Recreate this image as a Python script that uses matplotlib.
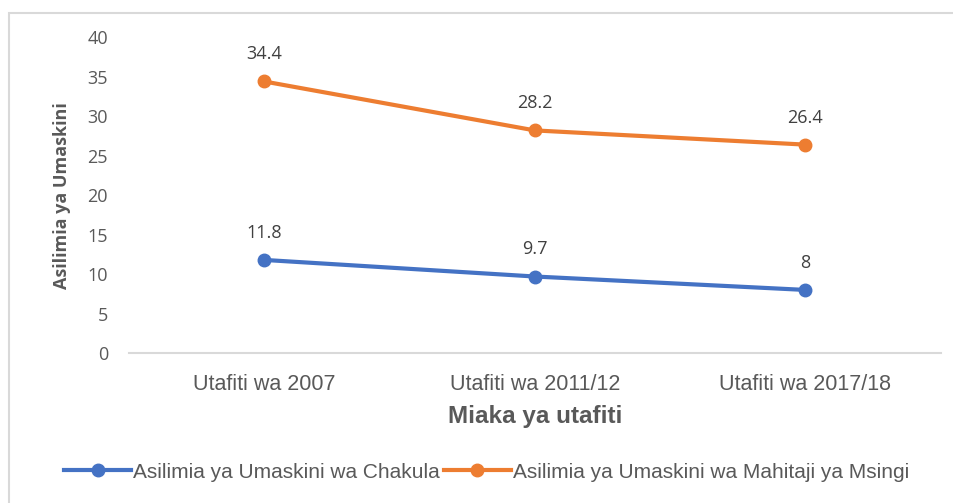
import matplotlib.pyplot as plt
from matplotlib.patches import Rectangle

categories = ["Utafiti wa 2007", "Utafiti wa 2011/12", "Utafiti wa 2017/18"]
chakula = [11.8, 9.7, 8]
msingi = [34.4, 28.2, 26.4]
labels = ["Asilimia ya Umaskini wa Chakula", "Asilimia ya Umaskini wa Mahitaji ya Msingi"]

plt.rcParams['font.family'] = ['Open Sans', 'DejaVu Sans']
grey = '#595959'
narrow = ['Liberation Sans', 'DejaVu Sans']

fig = plt.figure(figsize=(9.54, 5.03), dpi=100)
ax = fig.add_axes([0.135, 0.298, 0.851, 0.628])

# light grey chart border (left and top visible only)
fig.patches.append(Rectangle((9 / 954, -0.1), 1.2, 1 - 13 / 503 + 0.1, transform=fig.transFigure,
                             fill=False, edgecolor='#D9D9D9', linewidth=1.5))

x = range(len(categories))
ax.plot(x, chakula, '-o', color='#4472C4', lw=3, ms=9, label=labels[0])
ax.plot(x, msingi, '-o', color='#ED7D31', lw=3, ms=9, label=labels[1])

for vals in [chakula, msingi]:
    for xi, v in zip(x, vals):
        ax.annotate('%g' % v, (xi, v), xytext=(0, 13), textcoords='offset points',
                    ha='center', va='bottom', fontsize=13, color='#404040')

ax.set_xlim(-0.5, 2.5)
ax.set_ylim(0, 40)
ax.set_yticks(range(0, 41, 5))
ax.set_xticks(list(x))
ax.set_xticklabels(categories, family=narrow)
ax.tick_params(axis='both', length=0, labelcolor=grey)
ax.tick_params(axis='x', pad=15, labelsize=15.5)
ax.tick_params(axis='y', pad=15, labelsize=13)
for s in ['top', 'right', 'left']:
    ax.spines[s].set_visible(False)
ax.spines['bottom'].set_color('#D9D9D9')
ax.spines['bottom'].set_linewidth(1.5)

ax.set_xlabel('Miaka ya utafiti', family=narrow, fontsize=17.5, fontweight='bold', color=grey, labelpad=7)
ax.set_ylabel('Asilimia ya Umaskini', fontsize=13, fontweight='bold', color=grey, labelpad=12)

fig.legend(loc='center', bbox_to_anchor=(0.51, 1 - 472 / 503), ncol=2, frameon=False,
           prop={'family': narrow, 'size': 15}, labelcolor=grey, handlelength=3.2,
           handletextpad=0.1, columnspacing=0.2)

plt.savefig('out.png', dpi=100)
